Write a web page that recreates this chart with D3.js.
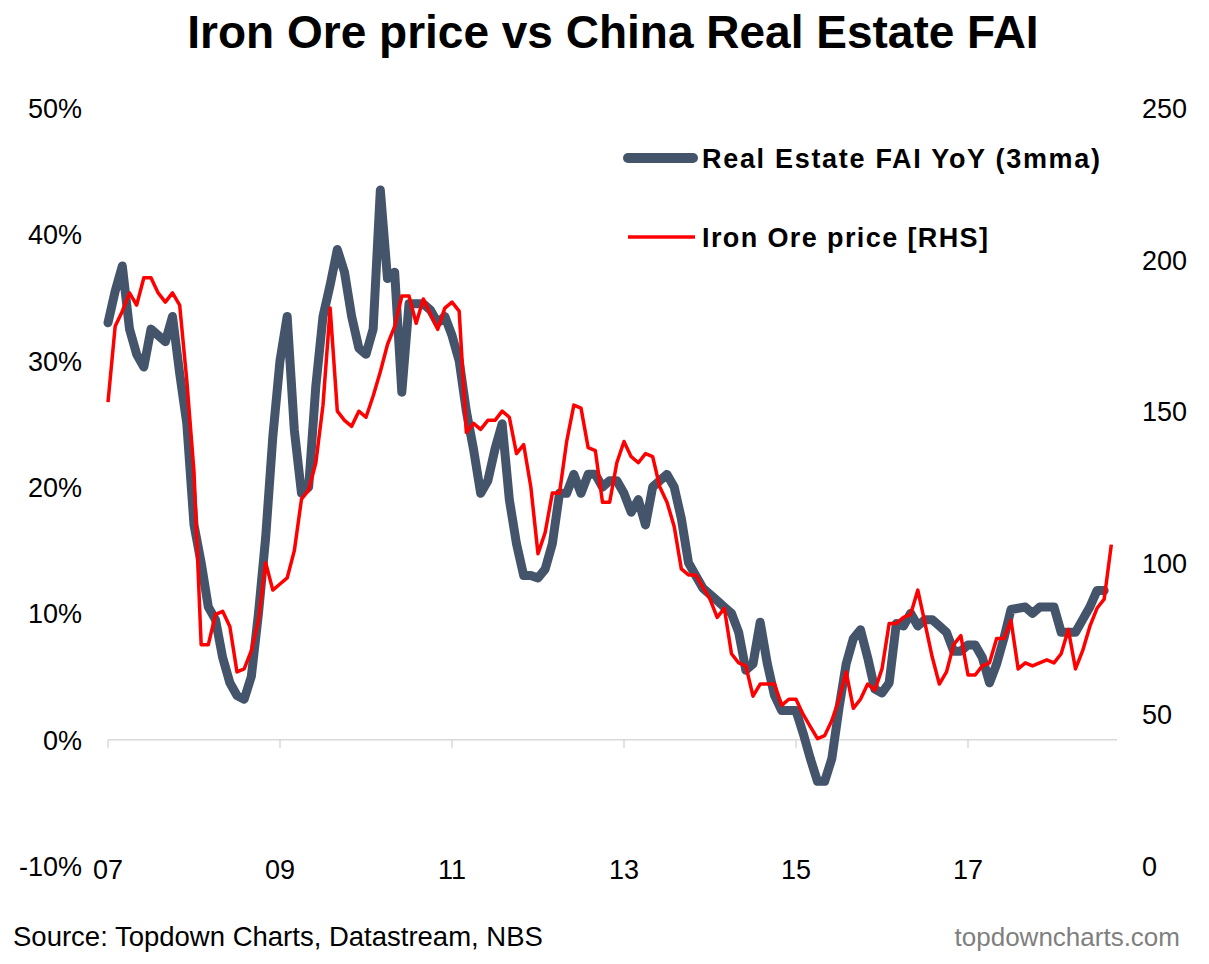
<!DOCTYPE html>
<html><head><meta charset="utf-8">
<script src="https://cdn.jsdelivr.net/npm/d3@7"></script>
<style>body{margin:0;background:#fff}text{font-family:"Liberation Sans",Arial,sans-serif}</style>
</head><body><div id="chart"></div>
<script>
// monthly, Jan 2007 .. Sep 2018
const startYear = 2007;
const faiYoY = [
  33,35.5,37.5,32.5,30.5,29.5,32.5,32,31.5,33.5,29,25,
  17,14,10.5,9.5,6.5,4.5,3.5,3.2,5,10,16,24,
  30,33.5,24.5,19.5,20,28,33.5,36,38.8,37,33.5,31,
  30.5,32.5,43.5,36.5,37,27.5,34.5,34.5,34.5,34,33,33.5,
  32,30,26,23,19.5,20.5,23,25,19,15.5,13,13,
  12.8,13.5,15.5,19.5,19.5,21,19.5,21,21,20,20.5,20.5,19.5,
  18,19,17,20,20.5,21,20,17.5,14,13,12,11.5,
  11,10.5,10,8.5,5.5,6,9.3,6,3.5,2.3,2.3,2.3,
  0.5,-1.5,-3.3,-3.3,-1.5,2.5,6,8,8.7,6.5,4,3.7,
  4.5,9.2,9,10,9,9.5,9.5,9,8.5,7,7,
  7.5,7.5,6.5,4.5,6,8,10.3,10.4,10.5,10,10.5,10.5,
  10.5,8.5,8.5,8.5,9.5,10.5,11.8,11.8
];
const ironOre = [
  153,178,183,189,185,194,194,189,186,189,185,160,
  130,73,73,83,84,79,64,65,71,81,100,91,
  93,95,104,121,124,133,152,184,150,147,145,150,
  148,155,163,172,178,188,188,179,187,182,177,184,
  186,183,143,146,144,147,147,150,148,136,139,125,
  103,110,123,123,140,152,151,138,137,120,120,133,
  140,135,133,136,135,125,120,112,98,96,96,92,
  88,82,85,70,67,66,56,60,60,60,53,55,
  55,50,46,42,43,48,55,64,52,55,60,58,
  65,80,80,82,83,91,80,69,60,64,73,76,
  63,63,66,67,75,75,81,65,67,66,67,68,
  67,70,78,65,71,79,85,88,106
];
const leftTicks = [-10,0,10,20,30,40,50];
const rightTicks = [0,50,100,150,200,250];
const yearTicks = [2007,2009,2011,2013,2015,2017];

const W = 1209, H = 964;
const svg = d3.select('#chart').append('svg').attr('width', W).attr('height', H);
const monthX = i => startYear + i / 12;
const x = d3.scaleLinear().domain([2007, 2017]).range([108, 968]);
const yL = d3.scaleLinear().domain([-10, 50]).range([866, 108]);
const yR = d3.scaleLinear().domain([0, 250]).range([866, 108]);

svg.append('text').attr('x', 613).attr('y', 48).attr('text-anchor', 'middle')
  .style('font-size', '46px').style('font-weight', 'bold').text('Iron Ore price vs China Real Estate FAI');

// axis line at 0%
svg.append('line').attr('x1', 108).attr('x2', 1117).attr('y1', yL(0)).attr('y2', yL(0))
  .attr('stroke', '#d9d9d9').attr('stroke-width', 1.5);
yearTicks.forEach(yr => {
  svg.append('line').attr('x1', x(yr)).attr('x2', x(yr)).attr('y1', yL(0)).attr('y2', yL(0) + 8)
    .attr('stroke', '#d9d9d9').attr('stroke-width', 1.5);
  svg.append('text').attr('x', x(yr)).attr('y', 879).attr('text-anchor', 'middle')
    .style('font-size', '27px').text(String(yr).slice(2));
});
leftTicks.forEach(t => svg.append('text').attr('x', 82).attr('y', yL(t) + 10).attr('text-anchor', 'end')
  .style('font-size', '27px').text(t + '%'));
rightTicks.forEach(t => svg.append('text').attr('x', 1142).attr('y', yR(t) + 10)
  .style('font-size', '27px').text(t));

svg.append('path').datum(faiYoY).attr('fill', 'none').attr('stroke', '#44546a')
  .attr('stroke-width', 9).attr('stroke-linejoin', 'round').attr('stroke-linecap', 'round')
  .attr('d', d3.line().x((d, i) => x(monthX(i))).y(d => yL(d)));
svg.append('path').datum(ironOre).attr('fill', 'none').attr('stroke', '#ff0000')
  .attr('stroke-width', 3.5).attr('stroke-linejoin', 'round')
  .attr('d', d3.line().x((d, i) => x(monthX(i))).y(d => yR(d)));

// legend
svg.append('line').attr('x1', 628).attr('x2', 693).attr('y1', 158).attr('y2', 158)
  .attr('stroke', '#44546a').attr('stroke-width', 10).attr('stroke-linecap', 'round');
svg.append('text').attr('x', 702).attr('y', 168).style('font-size', '27px').style('font-weight', 'bold')
  .attr('textLength', 398).text('Real Estate FAI YoY (3mma)');
svg.append('line').attr('x1', 628).attr('x2', 695).attr('y1', 237).attr('y2', 237)
  .attr('stroke', '#ff0000').attr('stroke-width', 3.5);
svg.append('text').attr('x', 702).attr('y', 247).style('font-size', '27px').style('font-weight', 'bold')
  .attr('textLength', 286).text('Iron Ore price [RHS]');

svg.append('text').attr('x', 13).attr('y', 946).style('font-size', '27.5px').text('Source: Topdown Charts, Datastream, NBS');
svg.append('text').attr('x', 1180).attr('y', 946).attr('text-anchor', 'end').attr('fill', '#7f7f7f')
  .style('font-size', '26px').text('topdowncharts.com');
</script></body></html>
